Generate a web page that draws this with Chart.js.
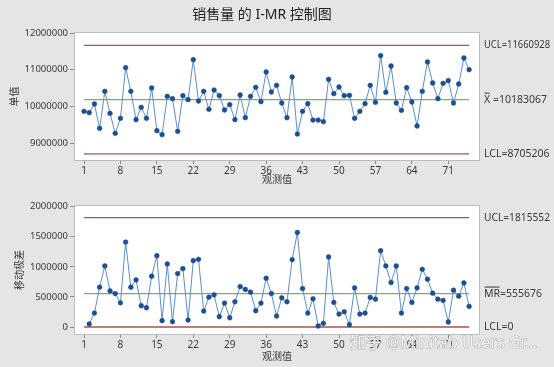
<!DOCTYPE html>
<html>
<head>
<meta charset="utf-8">
<script src="https://cdn.jsdelivr.net/npm/chart.js@4"></script>
<style>
  html, body { margin: 0; padding: 0; background: #e5e5e5; }
  #wrap { width: 554px; height: 367px; position: relative; overflow: hidden; }
  canvas { display: block; position: absolute; left: 0; }
</style>
</head>
<body>
<div id="wrap">
  <canvas id="iChart" width="554" height="190" style="top:0"></canvas>
  <canvas id="mrChart" width="554" height="177" style="top:190px"></canvas>
</div>
<script>
const individuals = [
  9864000, 9827000, 10064000, 9400000, 10409000, 9809000, 9264000, 9673000, 11055000, 10409000,
  9636000, 9973000, 9673000, 10500000, 9336000, 9227000, 10273000, 10209000, 9318000, 10291000,
  10182000, 11273000, 10145000, 10409000, 9918000, 10445000, 10291000, 9900000, 10045000, 9636000,
  10309000, 9691000, 10273000, 10518000, 10127000, 10936000, 10391000, 10573000, 10091000, 9691000,
  10800000, 9245000, 9864000, 10073000, 9627000, 9627000, 9582000, 10736000, 10345000, 10527000,
  10291000, 10300000, 9673000, 9864000, 10073000, 10573000, 10109000, 11382000, 10382000, 11100000,
  10091000, 9891000, 10509000, 10118000, 9464000, 10409000, 11209000, 10636000, 10209000, 10627000,
  10700000, 10091000, 10609000, 11318000, 11000000
];

const movingRanges = [
  50000, 231000, 661000, 1014000, 600000, 556000, 402000, 1410000, 661000,
  782000, 353000, 320000, 843000, 1185000, 105000, 1047000, 88000, 887000, 970000,
  116000, 1102000, 1124000, 264000, 496000, 534000, 171000, 397000, 154000, 419000,
  672000, 623000, 579000, 270000, 397000, 810000, 556000, 182000, 485000, 419000,
  1118000, 1570000, 639000, 231000, 468000, 17000, 61000, 1163000, 408000, 215000,
  253000, 39000, 650000, 215000, 231000, 490000, 463000, 1267000, 1014000, 738000,
  1014000, 231000, 639000, 408000, 650000, 959000, 793000, 562000, 463000, 441000,
  83000, 612000, 512000, 733000, 342000
];

const iLimits = { ucl: 11660928, center: 10183067, lcl: 8705206 };
const mrLimits = { ucl: 1815552, center: 555676, lcl: 0 };

const xTicks = [1, 8, 15, 22, 29, 36, 43, 50, 57, 64, 71];
const iYTicks = [9000000, 10000000, 11000000, 12000000];
const mrYTicks = [0, 500000, 1000000, 1500000, 2000000];

const FONT = "'Noto Sans', 'Noto Sans CJK SC', sans-serif";
const TEXT = '#3a3a3a';
const RED = '#a9524f';
const GREEN = '#74b262';

function limitLine(y, color) {
  return {
    data: [{ x: 1, y: y }, { x: individuals.length, y: y }],
    borderColor: color, borderWidth: 1.3, pointRadius: 0, fill: false
  };
}

// white plot area, frame, limit labels and all the loose text
const frame = {
  id: 'frame',
  beforeDraw(chart) {
    const a = chart.chartArea, ctx = chart.ctx;
    ctx.save();
    ctx.fillStyle = '#ffffff';
    ctx.fillRect(a.left, a.top, a.right - a.left, a.bottom - a.top);
    ctx.restore();
  },
  afterDraw(chart, args, o) {
    const a = chart.chartArea, ctx = chart.ctx;
    ctx.save();
    ctx.strokeStyle = '#bdbdbd';
    ctx.lineWidth = 1;
    ctx.strokeRect(a.left - 0.5, a.top - 0.5, a.right - a.left + 1, a.bottom - a.top + 1);

    ctx.fillStyle = TEXT;
    ctx.textBaseline = 'middle';
    ctx.textAlign = 'left';
    ctx.font = '10.5px ' + FONT;
    o.labels.forEach(l => {
      const y = chart.scales.y.getPixelForValue(l.value);
      const x = a.right + 5;
      const full = ctx.measureText(l.text).width;
      const k = Math.min(1, 66 / full);
      ctx.fillText(l.text, x, y, 66);
      if (l.bar) {
        const w = ctx.measureText(l.bar).width * k;
        ctx.fillRect(x + 0.5, y - 7, w - 1, 1);
      }
    });

    ctx.font = '10px ' + FONT;
    ctx.textAlign = 'center';
    ctx.fillText(o.xTitle, (a.left + a.right) / 2, o.xTitleY);
    ctx.save();
    ctx.translate(o.yTitleX, (a.top + a.bottom) / 2);
    ctx.rotate(-Math.PI / 2);
    ctx.fillText(o.yTitle, 0, 0);
    ctx.restore();

    if (o.title) {
      ctx.font = '14px ' + FONT;
      ctx.fillStyle = '#222';
      ctx.fillText(o.title, 262, 15);
    }
    if (o.watermark) {
      ctx.font = '16px ' + FONT;
      ctx.textAlign = 'left';
      ctx.lineWidth = 1;
      ctx.strokeStyle = 'rgba(130,130,130,0.55)';
      ctx.fillStyle = 'rgba(255,255,255,0.85)';
      ctx.strokeText(o.watermark, 350, 153, 192);
      ctx.fillText(o.watermark, 350, 153, 192);
    }
    ctx.restore();
  }
};

function makeChart(id, points, limits, yTicks, yMin, yMax, pad, extra) {
  return new Chart(document.getElementById(id), {
    type: 'line',
    data: {
      datasets: [
        {
          data: points,
          borderColor: '#5b8fd0', borderWidth: 1,
          pointRadius: 2.4, pointBorderWidth: 0.5,
          pointBackgroundColor: '#1d4f8c', pointBorderColor: '#1d4f8c',
          tension: 0, fill: false
        },
        limitLine(limits.ucl, RED),
        limitLine(limits.center, GREEN),
        limitLine(limits.lcl, RED)
      ]
    },
    options: {
      responsive: false,
      animation: false,
      events: [],
      layout: { padding: pad },
      plugins: {
        legend: { display: false },
        tooltip: { enabled: false },
        frame: extra
      },
      scales: {
        x: {
          type: 'linear', min: -0.73, max: 76.9,
          afterBuildTicks: s => { s.ticks = xTicks.map(v => ({ value: v })); },
          afterFit: s => { s.height = 20; },
          grid: { drawOnChartArea: false, drawTicks: true, tickLength: 4, color: '#8a8a8a' },
          border: { display: false },
          ticks: { color: TEXT, font: { family: FONT, size: 10 }, padding: 1, maxRotation: 0, callback: v => String(v) }
        },
        y: {
          min: yMin, max: yMax,
          afterBuildTicks: s => { s.ticks = yTicks.map(v => ({ value: v })); },
          afterFit: s => { s.width = 75; },
          grid: { drawOnChartArea: false, drawTicks: true, tickLength: 5, color: '#8a8a8a' },
          border: { display: false },
          ticks: { color: TEXT, font: { family: FONT, size: 9.5 }, padding: 2, callback: v => String(v) }
        }
      }
    },
    plugins: [frame]
  });
}

const iPoints = individuals.map((v, i) => ({ x: i + 1, y: v }));
const mrPoints = movingRanges.map((v, i) => ({ x: i + 2, y: v }));

makeChart('iChart', iPoints, iLimits, iYTicks, 8537000, 12000000,
  { top: 33, right: 75, bottom: 10, left: 0 },
  {
    title: '销售量 的 I-MR 控制图',
    xTitle: '观测值', xTitleY: 180,
    yTitle: '单值', yTitleX: 15,
    labels: [
      { value: iLimits.ucl, text: 'UCL=' + iLimits.ucl },
      { value: iLimits.center, text: 'X =' + iLimits.center, bar: 'X' },
      { value: iLimits.lcl, text: 'LCL=' + iLimits.lcl }
    ]
  });

makeChart('mrChart', mrPoints, mrLimits, mrYTicks, -116000, 2010000,
  { top: 16, right: 75, bottom: 13, left: 0 },
  {
    xTitle: '观测值', xTitleY: 167,
    yTitle: '移动极差', yTitleX: 20,
    watermark: '知乎 @Minitab Users Gr...',
    labels: [
      { value: mrLimits.ucl, text: 'UCL=' + mrLimits.ucl },
      { value: mrLimits.center, text: 'MR=' + mrLimits.center, bar: 'MR' },
      { value: mrLimits.lcl, text: 'LCL=' + mrLimits.lcl }
    ]
  });
</script>
</body>
</html>
